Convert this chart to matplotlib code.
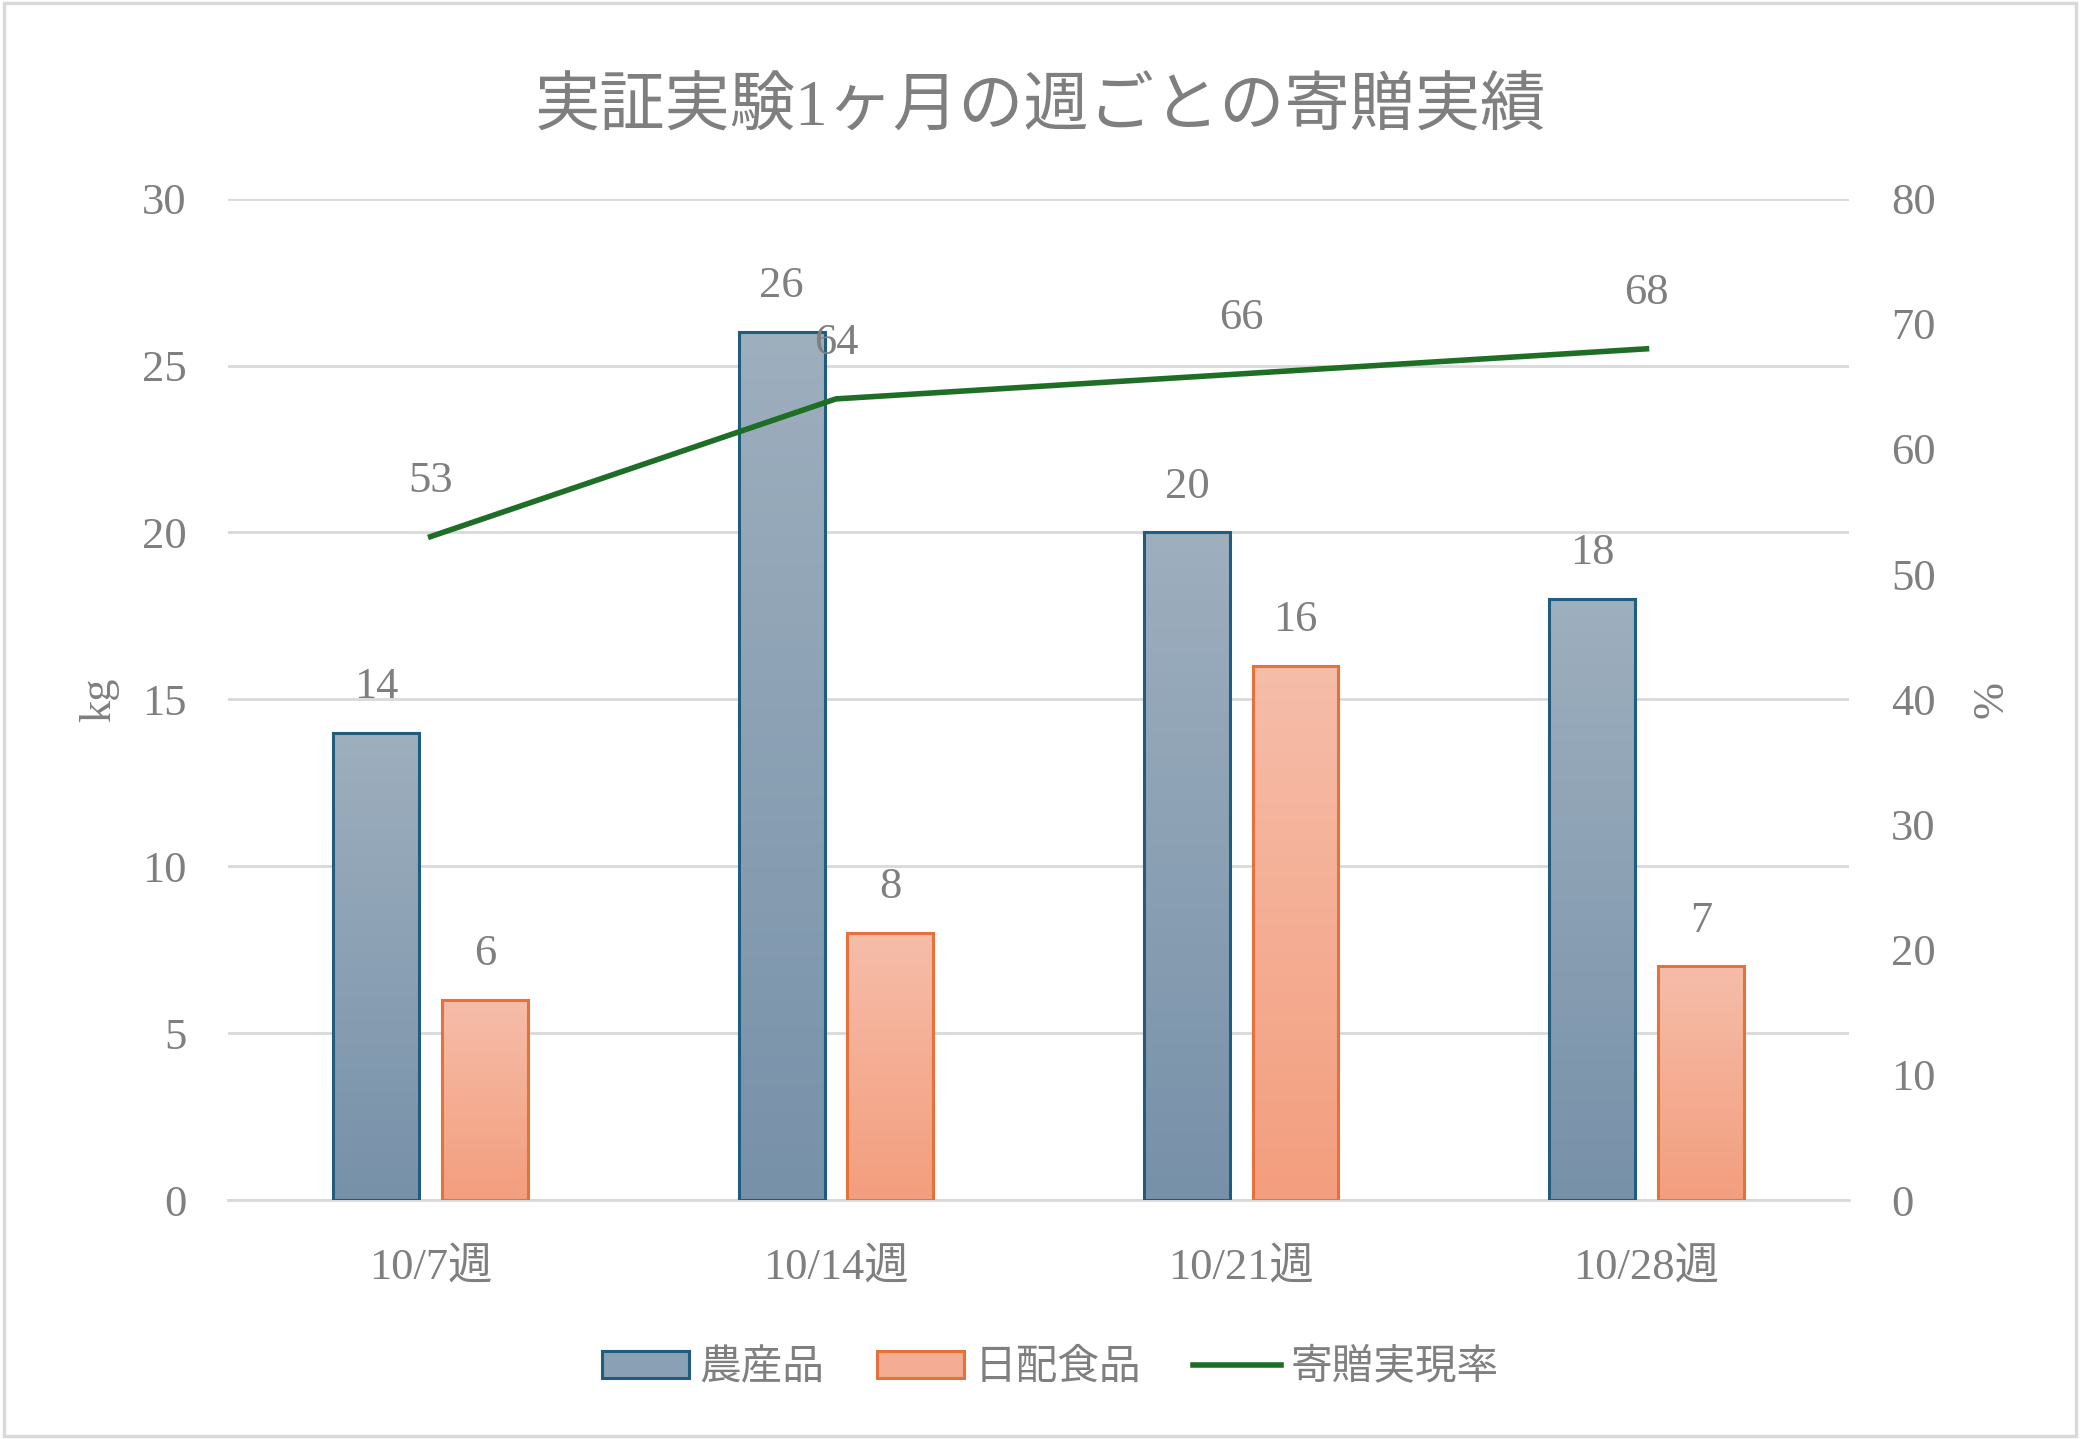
import matplotlib
matplotlib.use("Agg")
import matplotlib.pyplot as plt
import matplotlib.patches as mpatches
import numpy as np
from matplotlib.colors import LinearSegmentedColormap

plt.rcParams['font.family'] = ['Liberation Serif', 'Noto Sans CJK JP', 'DejaVu Sans']

weeks = ['10/7週', '10/14週', '10/21週', '10/28週']
farm = [14, 26, 20, 18]          # 農産品 (kg)
daily = [6, 8, 16, 7]            # 日配食品 (kg)
rate = [53, 64, 66, 68]          # 寄贈実現率 (%)

gray = '#7f7f7f'
fs = 32
fig = plt.figure(figsize=(20.8, 14.39), dpi=100)
ax = fig.add_axes([0.1096, 0.166, 0.7794, 0.696])
ax2 = ax.twinx()

x = np.arange(len(weeks))
w = 0.212
off = 0.134

blue_cmap = LinearSegmentedColormap.from_list('b', ['#7791a9', '#9eafbe'])
orng_cmap = LinearSegmentedColormap.from_list('o', ['#f39e7e', '#f6bda9'])

b1 = ax.bar(x - off, farm, w, facecolor='none', edgecolor='#1f5c80', linewidth=2.2, zorder=3)
b2 = ax.bar(x + off, daily, w, facecolor='none', edgecolor='#e8703a', linewidth=2.2, zorder=3)

# vertical gradient fill for each bar
grad = np.linspace(0, 1, 256).reshape(-1, 1)
for bars, cmap in ((b1, blue_cmap), (b2, orng_cmap)):
    for p in bars:
        x0, y0 = p.get_x(), p.get_y()
        ax.imshow(grad, cmap=cmap, origin='lower', aspect='auto',
                  extent=(x0, x0 + p.get_width(), y0, y0 + p.get_height()), zorder=2)

ax.set_xlim(-0.5, 3.5)
ax.set_ylim(0, 30)
ax.set_yticks(range(0, 31, 5))
ax2.set_ylim(0, 80)
ax2.set_yticks(range(0, 81, 10))

for bars, vals in ((b1, farm), (b2, daily)):
    for p, v in zip(bars, vals):
        ax.annotate(str(v), (p.get_x() + p.get_width() / 2, v), xytext=(0, 33),
                    textcoords='offset points', ha='center', va='center',
                    fontsize=fs, color=gray)

line, = ax2.plot(x, rate, color='#1e6e26', linewidth=4, zorder=4)
for xi, v in zip(x, rate):
    ax2.annotate(str(v), (xi, v), xytext=(0, 40), textcoords='offset points',
                 ha='center', va='center', fontsize=fs, color=gray)

ax.grid(axis='y', color='#d9d9d9', linewidth=2)
ax.set_axisbelow(True)
for a in (ax, ax2):
    for s in a.spines.values():
        s.set_visible(False)
    a.tick_params(length=0, labelsize=fs, labelcolor=gray)
ax.spines['bottom'].set_visible(True)
ax.spines['bottom'].set_color('#d9d9d9')
ax.spines['bottom'].set_linewidth(2)
ax.set_xticks(x)
ax.set_xticklabels(weeks)
ax.tick_params(axis='x', pad=35)
ax.tick_params(axis='y', pad=30)
ax2.tick_params(axis='y', pad=30)

ax.set_ylabel('kg', fontsize=fs, color=gray, labelpad=16)
ax2.set_ylabel('%', fontsize=fs, color=gray, labelpad=26)

fig.suptitle('実証実験1ヶ月の週ごとの寄贈実績', fontsize=47, color=gray, y=0.945)

handles = [mpatches.Patch(facecolor='#8aa0b4', edgecolor='#1f5c80', linewidth=2.2),
           mpatches.Patch(facecolor='#f4ad93', edgecolor='#e8703a', linewidth=2.2),
           line]
leg = fig.legend(handles, ['農産品', '日配食品', '寄贈実現率'], loc='center',
                 bbox_to_anchor=(0.505, 0.049), ncol=3, frameon=False,
                 fontsize=30, handlelength=2.1, handleheight=0.6,
                 columnspacing=1.25, handletextpad=0.25)
for t in leg.get_texts():
    t.set_color(gray)

fig.patches.append(mpatches.Rectangle((0.002, 0.002), 0.996, 0.996, transform=fig.transFigure,
                                      fill=False, edgecolor='#d9d9d9', linewidth=2.5))

fig.savefig('out.png', dpi=100)
